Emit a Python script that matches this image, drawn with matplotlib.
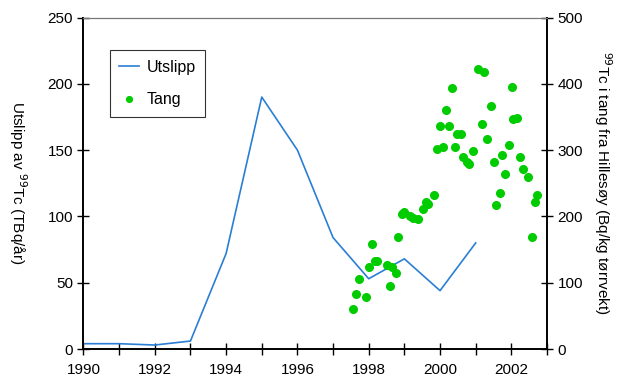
import matplotlib.pyplot as plt
import matplotlib
matplotlib.rcParams['font.family'] = ['Liberation Sans', 'DejaVu Sans']
matplotlib.rcParams['font.size'] = 11

# Utslipp (TBq/år)
years = [1990, 1991, 1992, 1993, 1994, 1995, 1996, 1997, 1998, 1999, 2000, 2001]
utslipp = [4, 4, 3, 6, 72, 190, 150, 84, 53, 68, 44, 80]

# Tang, Hillesøy (Bq/kg tørrvekt)
tang_t = [2001.06, 2001.24, 2000.34, 2002.01, 2000.16, 2001.42, 2000.01, 2000.25,
          2001.17, 2000.47, 2000.59, 2002.06, 2002.15, 2001.31, 1999.91, 2000.08,
          2000.42, 2001.93, 2000.92, 2000.65, 2000.75, 2000.82, 2001.75, 2001.50,
          2002.24, 2002.32, 2002.48, 2001.81, 1999.82, 1999.60, 1999.65, 1999.51,
          1998.93, 1998.99, 1999.16, 1999.25, 1999.39, 1998.83, 1998.08, 1998.18,
          1998.24, 1998.02, 1998.50, 1998.65, 1998.76, 1997.74, 1998.60, 1997.65,
          1997.92, 1997.55, 2001.67, 2001.57, 2002.73, 2002.66, 2002.58]
tang = [423, 418, 393, 395, 361, 367, 336, 336,
        340, 324, 325, 347, 349, 317, 301, 305,
        305, 307, 298, 290, 282, 279, 293, 282,
        290, 271, 259, 264, 233, 222, 218, 211,
        203, 206, 200, 198, 196, 169, 158, 133,
        133, 124, 127, 123, 115, 106, 95, 83,
        79, 60, 236, 217, 233, 222, 169]

fig = plt.figure(figsize=(6.23, 3.85), dpi=100)
ax = fig.add_axes([0.134, 0.0935, 0.744, 0.861])
ax2 = ax.twinx()

l1, = ax.plot(years, utslipp, color='#2a7fd4', linewidth=1.2, label='Utslipp')
s1, = ax2.plot(tang_t, tang, 'o', color='#00cc00', markersize=5.5, label='Tang')

ax.set_xlim(1990, 2003)
ax.set_ylim(0, 250)
ax2.set_ylim(0, 500)
ax.set_xticks(range(1990, 2004))
ax.set_xticklabels([str(y) if y % 2 == 0 and y < 2003 else '' for y in range(1990, 2004)])
ax.set_yticks(range(0, 251, 50))
ax2.set_yticks(range(0, 501, 100))

for a in (ax, ax2):
    a.tick_params(direction='inout', length=8, width=1, labelsize=11)
    for s in ['left', 'right', 'bottom']:
        a.spines[s].set_linewidth(1.2)
    a.spines['top'].set_color('#777777')
    a.spines['top'].set_linewidth(0.8)
ax.tick_params(axis='x', pad=6)

ax.set_ylabel('Utslipp av $^{99}$Tc (TBq/år)', rotation=-90)
ax.yaxis.set_label_coords(-0.165, 0.5)
ax2.set_ylabel('$^{99}$Tc i tang fra Hillesøy (Bq/kg tørrvekt)', rotation=-90, labelpad=22)

leg = ax.legend(handles=[l1, s1], loc='upper left', bbox_to_anchor=(0.057, 0.902),
                borderaxespad=0, frameon=True, fancybox=False, edgecolor='black',
                fontsize=11.5, handlelength=1.2, handletextpad=0.5, markerscale=0.75,
                borderpad=0.6, labelspacing=1.1)
leg.get_frame().set_linewidth(0.8)

fig.savefig('out.png', dpi=100)
plt.close()
